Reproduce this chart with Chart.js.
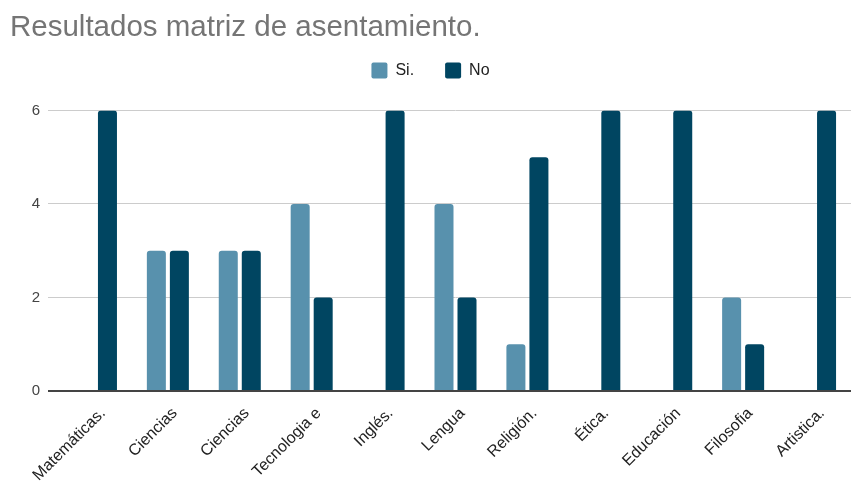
<!DOCTYPE html>
<html>
<head>
<meta charset="utf-8">
<script src="https://cdn.jsdelivr.net/npm/chart.js@4"></script>
<style>
html,body{margin:0;padding:0;background:#fff;}
#wrap{width:851px;height:485px;}
</style>
</head>
<body>
<div id="wrap"><canvas id="c" width="851" height="485"></canvas></div>
<script>
const categories = ["Matemáticas.", "Ciencias", "Ciencias", "Tecnologia e", "Inglés.", "Lengua", "Religión.", "Ética.", "Educación", "Filosofia", "Artistica."];
const siValues = [0, 3, 3, 4, 0, 4, 1, 0, 0, 2, 0];
const noValues = [6, 3, 3, 2, 6, 2, 5, 6, 6, 1, 6];
const yTicks = [0, 2, 4, 6];
const titleText = "Resultados matriz de asentamiento.";

const FONT = "'Liberation Sans', Arial, sans-serif";

new Chart(document.getElementById('c'), {
  type: 'bar',
  data: {
    labels: categories,
    datasets: [
      { label: 'Si.', data: siValues, backgroundColor: '#5891AD', borderRadius: {topLeft: 3, topRight: 3}, borderSkipped: 'start', barPercentage: 0.826, categoryPercentage: 0.64 },
      { label: 'No', data: noValues, backgroundColor: '#004561', borderRadius: {topLeft: 3, topRight: 3}, borderSkipped: 'start', barPercentage: 0.826, categoryPercentage: 0.64 }
    ]
  },
  options: {
    responsive: false,
    animation: false,
    devicePixelRatio: 1,
    layout: { padding: { left: 10, right: 0, top: 0, bottom: 0 } },
    plugins: {
      title: {
        display: true, text: titleText, align: 'start', color: '#757575',
        font: { family: FONT, size: 29.5, weight: 'normal', lineHeight: 1.2 },
        padding: { top: 10, bottom: -14 }
      },
      subtitle: {
        display: true, text: '', weight: 500,
        font: { size: 1, lineHeight: 1 },
        padding: { top: 0, bottom: 21 }
      },
      legend: {
        display: true, position: 'top', align: 'center',
        labels: {
          boxWidth: 16, boxHeight: 16, padding: 31, color: '#222',
          useBorderRadius: true, borderRadius: 2,
          font: { family: FONT, size: 16 }
        }
      },
      tooltip: { enabled: false }
    },
    scales: {
      x: {
        grid: { display: false },
        border: { display: false },
        ticks: { color: '#222', font: { family: FONT, size: 16 }, maxRotation: 45, minRotation: 45, padding: 5, labelOffset: 7, autoSkip: false },
        afterFit: s => { s.height = 94; }
      },
      y: {
        min: 0, max: 6,
        afterBuildTicks: s => { s.ticks = yTicks.map(v => ({ value: v })); },
        grid: {
          color: c => (c.tick && c.tick.value === 0) ? '#444' : '#cccccc',
          lineWidth: c => (c.tick && c.tick.value === 0) ? 2 : 1,
          tickLength: 12
        },
        border: { display: false },
        ticks: { color: '#444', font: { family: FONT, size: 15 }, padding: 8 },
        afterFit: s => { s.width = 50; }
      }
    }
  }
});
</script>
</body>
</html>
